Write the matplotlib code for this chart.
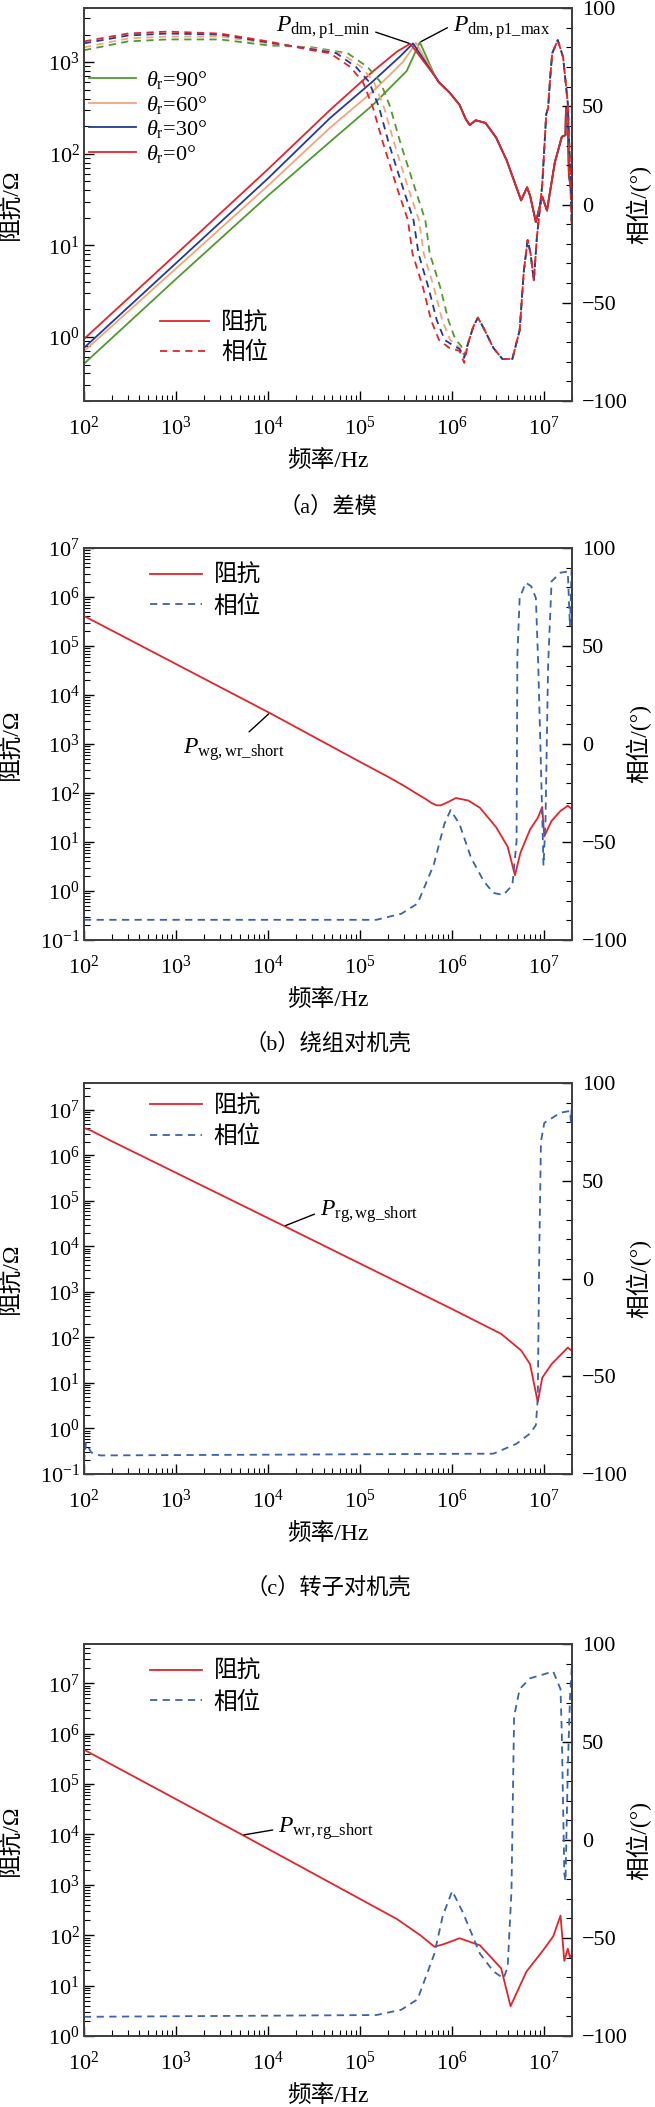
import numpy as np
import matplotlib
matplotlib.use("Agg")
import matplotlib.pyplot as plt
from matplotlib.ticker import LogLocator, NullFormatter, MultipleLocator, FixedLocator

plt.rcParams["font.family"] = ["Liberation Serif", "Noto Sans CJK SC"]
plt.rcParams["mathtext.fontset"] = "custom"
plt.rcParams["mathtext.rm"] = "Liberation Serif"
plt.rcParams["mathtext.it"] = "Liberation Serif:italic"
plt.rcParams["axes.unicode_minus"] = True

# ---- colours
c_red = "#e3242b"
c_blue = "#1f3c98"
c_org = "#f4a57a"
c_grn = "#4f9a2f"
c_ph = "#3a62ad"
c_spine = "#404040"

fs = 16
lw = 1.3

# ---- (a) differential mode, impedance: rising branch per rotor angle
f_a_rise_0 = [1e2, 1e3, 1e4, 4.7e4, 1.37e5, 2.5e5, 3.5e5]
z_a_rise_0 = [0.95, 8.0, 68, 300, 790, 1300, 1590]
f_a_rise_30 = [1e2, 1e3, 1e4, 4.7e4, 1.37e5, 2.7e5, 3.75e5]
z_a_rise_30 = [0.76, 6.4, 54, 245, 616, 1150, 1600]
f_a_rise_60 = [1e2, 1e3, 1e4, 4.7e4, 1.37e5, 2.9e5, 4.05e5]
z_a_rise_60 = [0.70, 5.6, 45, 192, 478, 1000, 1620]
f_a_rise_90 = [1e2, 1e3, 1e4, 4.7e4, 1.37e5, 3.2e5, 4.45e5]
z_a_rise_90 = [0.51, 4.3, 35, 135, 340, 800, 1650]
# shared falling branch
f_a_fall = [6.5e5, 7.2e5, 9.4e5, 1.2e6, 1.4e6, 1.55e6, 1.8e6, 2.3e6, 3.0e6, 3.9e6, 5.6e6,
            6.5e6, 7.0e6, 8.1e6, 9.5e6, 1.07e7, 1.3e7, 1.55e7, 1.7e7, 1.72e7, 1.8e7,
            1.85e7, 1.95e7]
z_a_fall = [700, 600, 463, 342, 240, 206, 232, 217, 150, 85, 31,
            43, 35, 18, 34, 24, 80, 153, 160, 316, 313,
            60, 40]

# (a) phase: low-frequency part per rotor angle
f_a_ph_0 = [1e2, 3e2, 8e2, 3e3, 1e4, 3e4, 4.7e4, 7.8e4, 1.07e5, 1.37e5, 1.78e5, 2.5e5,
            3.3e5, 3.7e5, 4.8e5, 5.9e5, 7.2e5, 9.3e5, 1.2e6, 1.35e6]
p_a_ph_0 = [83, 87, 88, 87, 83, 78.5, 77, 70, 62.4, 49.6, 31, 8.8,
            -8, -25, -42, -59, -69, -73, -74.5, -80.6]
f_a_ph_30 = [1e2, 3e2, 8e2, 3e3, 1e4, 3e4, 5.5e4, 9e4, 1.25e5, 1.6e5, 2.05e5, 2.9e5,
             3.8e5, 4.3e5, 5.5e5, 6.8e5, 8.3e5, 1.05e6, 1.2e6, 1.35e6]
p_a_ph_30 = [82, 86, 87, 86.5, 82.5, 79, 77, 70, 62.4, 49.6, 31, 8.8,
             -8, -25, -42, -59, -69, -72, -73.5, -78]
f_a_ph_60 = [1e2, 3e2, 8e2, 3e3, 1e4, 3e4, 6.2e4, 1.03e5, 1.41e5, 1.81e5, 2.35e5, 3.3e5,
             4.35e5, 4.9e5, 6.3e5, 7.8e5, 9.5e5, 1.1e6, 1.2e6, 1.35e6]
p_a_ph_60 = [80, 84.5, 85.5, 85.5, 82, 79.5, 77, 70, 62.4, 49.6, 31, 8.8,
             -8, -25, -42, -59, -69, -71, -73, -77]
f_a_ph_90 = [1e2, 3e2, 8e2, 3e3, 1e4, 3e4, 7.3e4, 1.2e5, 1.66e5, 2.12e5, 2.75e5, 3.9e5,
             5.1e5, 5.7e5, 7.4e5, 9.1e5, 1.05e6, 1.15e6, 1.25e6, 1.35e6]
p_a_ph_90 = [78.5, 83, 84, 84, 81, 80, 77, 70, 62.4, 49.6, 31, 8.8,
             -8, -25, -42, -59, -67, -70, -72, -77]
# shared high-frequency phase
f_a_ph_hi = [1.5e6, 1.7e6, 1.9e6, 2.2e6, 2.8e6, 3.5e6, 4.5e6, 5.4e6, 6.0e6, 6.6e6, 7.1e6,
             7.7e6, 8.3e6, 9.5e6, 1.05e7, 1.1e7, 1.16e7, 1.22e7, 1.4e7, 1.6e7, 1.7e7, 1.8e7,
             1.9e7, 2.0e7]
p_a_ph_hi = [-70, -62, -57.6, -63, -73, -78.6, -78.6, -64, -33.7, -18, -25,
             -39, -17, 10, 46, 49, 64.8, 77, 83.7, 75, 63, 51.5,
             20, -15]

# ---- (b) winding to frame
f_b_z = [1e2, 1.04e4, 1e5, 2e5, 3e5, 4e5, 5e5, 6e5, 6.8e5, 7.5e5, 8.5e5, 1.1e6, 1.5e6,
         2e6, 3e6, 4e6, 4.8e6, 5.5e6, 7e6, 8.5e6, 9.5e6, 1e7, 1.2e7, 1.5e7, 1.8e7, 2e7]
z_b = [4.1e5, 4300, 430, 215, 140, 100, 78, 62, 56, 56, 62, 79, 70,
       50, 20, 8, 2.1, 6, 18, 31, 52, 13, 27, 43, 55, 47]
f_b_ph = [1e2, 1.5e5, 2.8e5, 4.2e5, 6.3e5, 8.2e5, 9.6e5, 1.2e6, 1.6e6, 2.2e6, 2.8e6,
          3.6e6, 4.5e6, 5.0e6, 5.1e6, 5.4e6, 6.3e6, 7.2e6, 8.1e6, 8.6e6, 9.3e6, 9.8e6,
          1.03e7, 1.1e7, 1.2e7, 1.5e7, 1.8e7, 1.9e7, 2.0e7]
p_b = [-89.7, -89.7, -86.6, -81.4, -61.6, -40.9, -33.7, -40.9, -58, -70, -76,
       -77, -72, -49.5, 45, 74.5, 82.3, 80.5, 74.5, 40, -20, -62,
       -40, 40, 83, 87.4, 88, 60, 95]

# ---- (c) rotor to frame
f_c_z = [1e2, 1.2e2, 1.87e2, 1.5e4, 1e6, 3.4e6, 5.6e6, 7e6, 8.5e6, 9.5e6, 1.2e7,
         1.8e7, 1.9e7, 2e7]
z_c = [4.0e6, 3.5e6, 2.2e6, 2.8e4, 420, 120, 52, 26, 3.8, 13, 26,
       60, 55, 50]
f_c_ph = [1e2, 1.05e2, 1.2e2, 1.5e2, 2.8e6, 5e6, 7e6, 8.1e6, 8.5e6, 8.8e6, 9.2e6,
          1e7, 1.5e7, 1.9e7, 1.95e7, 2e7]
p_c = [-94, -84, -89, -90.5, -89.6, -84.5, -79.3, -75, -61, 10, 70,
       79.6, 84.8, 85.7, 80, 90]

# ---- (d) winding to rotor
f_d_z = [1e2, 5.3e3, 2.5e5, 4.5e5, 6.4e5, 8e5, 1.2e6, 2e6, 3.4e6, 4.3e6, 6.4e6,
         9.7e6, 1.25e7, 1.5e7, 1.65e7, 1.8e7, 1.9e7, 2e7]
z_d = [4.8e5, 9.7e3, 210, 100, 59, 66, 87, 63, 22, 3.9, 19,
       50, 95, 245, 31, 54, 36, 43]
f_d_ph = [1e2, 1.5e5, 2.8e5, 4.2e5, 6.4e5, 7.9e5, 1e6, 1.3e6, 2e6, 2.8e6, 3.6e6,
          4e6, 4.4e6, 4.7e6, 5.4e6, 7e6, 9.5e6, 1.25e7, 1.5e7, 1.55e7, 1.65e7, 1.7e7,
          1.8e7, 1.9e7, 2e7]
p_d = [-90.2, -89.3, -86.6, -81.3, -58, -38.6, -26, -36.8, -58, -67, -70.6,
       -65, -26, 63, 77, 82.5, 84.3, 86, 77, 54, -17, -21,
       36, 72, 90]

ylims = [(0.2, 3900), (0.1, 1e7), (0.1, 3.9e7), (1, 6e7)]
captions = ["（a）差模", "（b）绕组对机壳", "（c）转子对机壳"]

W, H = 655, 2107
fig = plt.figure(figsize=(W / 100, H / 100), dpi=100)

tops = [8, 548, 1083, 1644]
bots = [401, 940, 1474, 2036]
ax_l, ax_r = 84, 572


def make_axes(i):
    rect = [ax_l / W, 1 - bots[i] / H, (ax_r - ax_l) / W, (bots[i] - tops[i]) / H]
    ax = fig.add_axes(rect)
    ax.set_xscale("log")
    ax.set_yscale("log")
    ax.set_xlim(1e2, 2e7)
    ax.set_ylim(*ylims[i])
    ax.xaxis.set_major_locator(LogLocator(base=10, numticks=20))
    ax.xaxis.set_minor_locator(LogLocator(base=10, subs=np.arange(2, 10), numticks=100))
    ax.yaxis.set_major_locator(LogLocator(base=10, numticks=20))
    ax.yaxis.set_minor_locator(LogLocator(base=10, subs=np.arange(2, 10), numticks=100))
    ax.xaxis.set_minor_formatter(NullFormatter())
    ax.yaxis.set_minor_formatter(NullFormatter())
    ax.tick_params(which="both", direction="in", top=False, right=False,
                   labelsize=fs, colors="black")
    ax.tick_params(which="major", length=7, width=1.0)
    ax.tick_params(which="minor", length=4, width=0.8)
    ax.tick_params(axis="y", pad=3)
    ax.tick_params(axis="x", pad=11)
    for s in ax.spines.values():
        s.set_color(c_spine)
        s.set_linewidth(1.3)

    ax2 = ax.twinx()
    ax2.set_ylim(-100, 100)
    ax2.yaxis.set_major_locator(FixedLocator([-100, -50, 0, 50, 100]))
    ax2.yaxis.set_minor_locator(MultipleLocator(10))
    ax2.tick_params(which="both", direction="in", labelsize=fs, pad=7)
    ax2.tick_params(which="major", length=7, width=1.0)
    ax2.tick_params(which="minor", length=4, width=0.8)
    for s in ax2.spines.values():
        s.set_color(c_spine)
        s.set_linewidth(1.3)

    ax.set_xlabel("频率/Hz", fontsize=fs + 1, va="center")
    ax.xaxis.set_label_coords(0.5, -0.153)
    ax.set_ylabel("阻抗/Ω", fontsize=fs + 1, va="center")
    ax.yaxis.set_label_coords(-0.148, 0.5)
    ax2.set_ylabel("相位/(°)", fontsize=fs + 1, va="center", rotation=90)
    ax2.yaxis.set_label_coords(1.137, 0.5)
    return ax, ax2


dash = (4, 3)

# ---- panel (a)
ax, ax2 = make_axes(0)
rises = [(f_a_rise_90, z_a_rise_90, c_grn), (f_a_rise_60, z_a_rise_60, c_org),
         (f_a_rise_30, z_a_rise_30, c_blue), (f_a_rise_0, z_a_rise_0, c_red)]
phases = [(f_a_ph_90, p_a_ph_90, c_grn), (f_a_ph_60, p_a_ph_60, c_org),
          (f_a_ph_30, p_a_ph_30, c_blue), (f_a_ph_0, p_a_ph_0, c_red)]
labels_a = [r"$\theta_{\rm r}$=90°", r"$\theta_{\rm r}$=60°",
            r"$\theta_{\rm r}$=30°", r"$\theta_{\rm r}$=0°"]
h_theta = []
for (f, z, c), lab in zip(rises, labels_a):
    ln, = ax.plot(list(f) + f_a_fall, list(z) + z_a_fall, color=c, lw=lw, label=lab)
    h_theta.append(ln)
for f, p, c in phases:
    ax2.plot(list(f) + f_a_ph_hi, list(p) + p_a_ph_hi, color=c, lw=lw,
             ls=(0, dash))
leg1 = ax2.legend(handles=h_theta, loc="upper left", bbox_to_anchor=(0.01, 0.845),
                  frameon=False, fontsize=fs, handlelength=2.1, handletextpad=0.45,
                  labelspacing=0.12, borderpad=0, borderaxespad=0)
ax2.add_artist(leg1)
h_z, = ax.plot([], [], color=c_red, lw=lw, label="阻抗")
h_p, = ax.plot([], [], color=c_red, lw=lw, ls=(0, dash), label="相位")
ax2.legend(handles=[h_z, h_p], loc="upper left", bbox_to_anchor=(0.155, 0.225),
           frameon=False, fontsize=fs + 1, handlelength=2.1, handletextpad=0.5,
           labelspacing=0.3, borderpad=0, borderaxespad=0)
ax.annotate(r"$P_{\rm dm,p1\_min}$", xy=(f_a_rise_0[-1], z_a_rise_0[-1]),
            xytext=(0.49, 0.95), textcoords="axes fraction", ha="center", va="center",
            fontsize=fs + 1,
            arrowprops=dict(arrowstyle="-", color="black", lw=1.0, relpos=(1, 0.4),
                            shrinkA=2, shrinkB=1))
ax.annotate(r"$P_{\rm dm,p1\_max}$", xy=(f_a_rise_90[-1], z_a_rise_90[-1]),
            xytext=(0.855, 0.95), textcoords="axes fraction", ha="center", va="center",
            fontsize=fs + 1,
            arrowprops=dict(arrowstyle="-", color="black", lw=1.0, relpos=(0, 0.6),
                            shrinkA=2, shrinkB=1))


def simple_panel(i, fz, z, fp, p, ann, ann_xy, ann_txt, relpos, leg_y):
    ax, ax2 = make_axes(i)
    hz, = ax.plot(fz, z, color=c_red, lw=lw, label="阻抗")
    hp, = ax2.plot(fp, p, color=c_ph, lw=lw, ls=(0, dash), label="相位")
    ax2.legend(handles=[hz, hp], loc="upper left", bbox_to_anchor=(0.135, leg_y),
               frameon=False, fontsize=fs + 1, handlelength=2.2, handletextpad=0.5,
               labelspacing=0.35, borderpad=0, borderaxespad=0)
    ax.annotate(ann, xy=ann_xy, xytext=ann_txt, textcoords="axes fraction",
                ha="center", va="center", fontsize=fs + 1,
                arrowprops=dict(arrowstyle="-", color="black", lw=1.0, relpos=relpos,
                                shrinkA=2, shrinkB=1))
    return ax


simple_panel(1, f_b_z, z_b, f_b_ph, p_b, r"$P_{\rm wg,wr\_short}$",
             (f_b_z[1], z_b[1]), (0.307, 0.485), (0.6, 1.0), 0.957)
simple_panel(2, f_c_z, z_c, f_c_ph, p_c, r"$P_{\rm rg,wg\_short}$",
             (f_c_z[3], z_c[3]), (0.584, 0.67), (0.0, 0.5), 0.969)
simple_panel(3, f_d_z, z_d, f_d_ph, p_d, r"$P_{\rm wr,rg\_short}$",
             (f_d_z[1], z_d[1]), (0.496, 0.528), (0.0, 0.5), 0.957)

cap_y = [507, 1044, 1588]
for cap, y in zip(captions, cap_y):
    fig.text(328 / W, 1 - y / H, cap, ha="center", va="center", fontsize=fs,
             family=["Liberation Serif", "Noto Sans CJK SC"], fontweight="light")

fig.savefig("out.png", dpi=100)
